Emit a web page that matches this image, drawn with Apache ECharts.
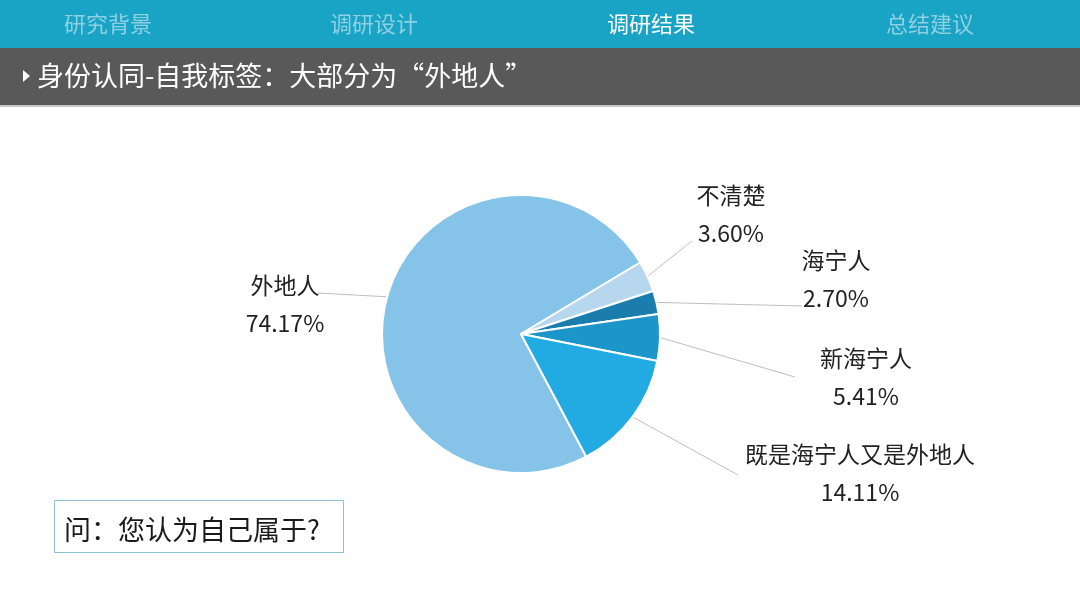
<!DOCTYPE html>
<html>
<head>
<meta charset="utf-8">
<script src="https://cdn.jsdelivr.net/npm/echarts@6/dist/echarts.min.js"></script>
<style>
html,body{margin:0;padding:0;background:#fff;}
#chart{width:1080px;height:608px;}
</style>
</head>
<body>
<div id="chart"></div>
<script>
// ---- data ----
var navItems = ['研究背景', '调研设计', '调研结果', '总结建议'];
var activeNav = '调研结果';
var titleText = '身份认同-自我标签：大部分为“外地人”';
var questionText = '问：您认为自己属于?';
var categories = ['外地人', '不清楚', '海宁人', '新海宁人', '既是海宁人又是外地人'];
var shares = [74.17, 3.60, 2.70, 5.41, 14.11];

// ---- styles / layout (not data) ----
var sliceColors = ['#86C3E9', '#B7D7EF', '#1A7DAE', '#1C95CB', '#22AAE2'];
var navX = [108, 374, 651, 930];
var labelPos = [ // label centre and leader-line end point
  {x: 285, y: 304, ex: 318, ey: 293},
  {x: 731, y: 214, ex: 692, ey: 241},
  {x: 836, y: 279, ex: 802, ey: 306},
  {x: 866, y: 377, ex: 795, ey: 377},
  {x: 860, y: 473, ex: 738, ey: 475}
];
var FONT = '"Noto Sans CJK SC", "Microsoft YaHei", sans-serif';

var chart = echarts.init(document.getElementById('chart'), null, {renderer: 'canvas'});

var graphics = [
  {type: 'rect', left: 0, top: 0, shape: {width: 1080, height: 48}, style: {fill: '#19A3C5'}, z: 0},
  {type: 'rect', left: 0, top: 48, shape: {width: 1080, height: 57}, style: {fill: '#595959'}, z: 0},
  {type: 'rect', left: 0, top: 105, shape: {width: 1080, height: 2}, style: {fill: '#C8C8C8'}, z: 0},
  {type: 'polygon', shape: {points: [[23, 70], [23, 82], [30, 76]]}, style: {fill: '#FFFFFF'}, z: 2},
  {type: 'text', x: 37, y: 76, style: {text: titleText, fill: '#FFFFFF', font: '27px ' + FONT, textVerticalAlign: 'middle', textAlign: 'left'}, z: 2},
  {type: 'rect', left: 54, top: 500, shape: {width: 289, height: 52}, style: {fill: '#FFFFFF', stroke: '#8FC0CF', lineWidth: 1}, z: 1},
  {type: 'text', x: 64, y: 530, style: {text: questionText, fill: '#1A1A1A', font: '27px ' + FONT, textVerticalAlign: 'middle', textAlign: 'left'}, z: 2}
];
navItems.forEach(function (t, i) {
  graphics.push({
    type: 'text', x: navX[i], y: 24, z: 2,
    style: {
      text: t, font: '22px ' + FONT,
      fill: t === activeNav ? '#FFFFFF' : '#8FD0E3',
      textAlign: 'center', textVerticalAlign: 'middle'
    }
  });
});

var seriesData = categories.map(function (c, i) {
  return {name: c, value: shares[i], itemStyle: {color: sliceColors[i]}};
});

chart.setOption({
  animation: false,
  backgroundColor: '#FFFFFF',
  graphic: graphics,
  series: [{
    type: 'pie',
    center: [521, 334],
    radius: [0, 139],
    startAngle: 298,
    clockwise: true,
    data: seriesData,
    itemStyle: {borderColor: '#FFFFFF', borderWidth: 2},
    label: {
      show: true,
      position: 'outside',
      formatter: function (p) { return p.name + '\n' + p.value.toFixed(2) + '%'; },
      fontFamily: FONT,
      fontSize: 23,
      lineHeight: 38,
      color: '#222222',
      align: 'center'
    },
    labelLine: {show: true, length: 20, length2: 0, smooth: false, lineStyle: {color: '#BFBFBF', width: 1}},
    labelLayout: function (params) {
      var lp = labelPos[params.dataIndex];
      var start = params.labelLinePoints ? params.labelLinePoints[0] : [lp.ex, lp.ey];
      return {
        x: lp.x, y: lp.y, align: 'center', verticalAlign: 'middle',
        labelLinePoints: [start, [lp.ex, lp.ey], [lp.ex, lp.ey]]
      };
    }
  }]
});
</script>
</body>
</html>
